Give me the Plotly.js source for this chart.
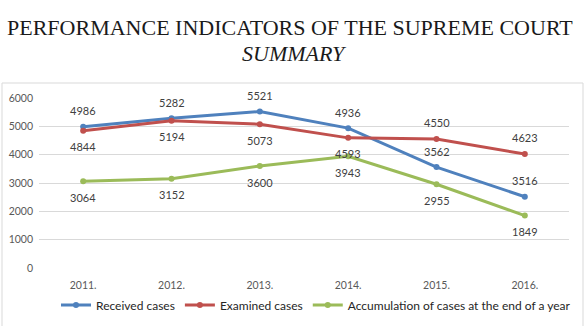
<!DOCTYPE html>
<html><head><meta charset="utf-8">
<script src="https://cdn.plot.ly/plotly-3.0.1.min.js"></script>
<style>body{margin:0;background:#fff}#c{width:588px;height:326px}</style>
</head><body><div id="c"></div>
<script>
const years = ["2011.", "2012.", "2013.", "2014.", "2015.", "2016."];
const received = [4986, 5282, 5521, 4936, 3562, 2516];
const examined = [4844, 5194, 5073, 4593, 4550, 4023];
const accumulated = [3064, 3152, 3600, 3943, 2955, 1849];
const receivedLabels = ["4986", "5282", "5521", "4936", "3562", "3516"];
const examinedLabels = ["4844", "5194", "5073", "4593", "4550", "4623"];
const accumulatedLabels = ["3064", "3152", "3600", "3943", "2955", "1849"];
const yTicks = [0, 1000, 2000, 3000, 4000, 5000, 6000];

const xIdx = years.map((_, i) => i);
const colors = {rec: "#4f81bd", exa: "#c0504d", acc: "#9bbb59"};
function tr(name, y, c) {
  return {type: "scatter", mode: "lines+markers", name: name, x: xIdx, y: y,
    line: {color: c, width: 3}, marker: {color: c, size: 6}};
}
const data = [
  tr("Received cases", received, colors.rec),
  tr("Examined cases", examined, colors.exa),
  tr("Accumulation of cases at the end of a year", accumulated, colors.acc)
];
const lblFont = {family: "Lato, 'Liberation Sans', sans-serif", size: 11, color: "#404040"};
const annotations = [];
function addLabels(vals, labels, shifts) {
  vals.forEach((v, i) => annotations.push({x: xIdx[i], y: v, xref: "x", yref: "y",
    xanchor: "center", yanchor: "middle",
    text: labels[i], showarrow: false, yshift: shifts[i], font: lblFont}));
}
addLabels(received, receivedLabels, [16, 16, 16, 16, 16, 16]);
addLabels(examined, examinedLabels, [-16, -16, -16, -16, 17, 17]);
addLabels(accumulated, accumulatedLabels, [-16, -16, -16, -16, -16, -16]);

const L = 39, R = 19, T = 98, B = 58, W = 530, H = 170;
const titleFont = {family: "'Liberation Serif', 'Times New Roman', serif", size: 22, color: "#1a1a1a"};
annotations.push({xref: "paper", yref: "paper", x: (290 - L) / W, y: (268 - 28) / H,
  xanchor: "center", yanchor: "middle",
  text: "PERFORMANCE INDICATORS OF THE SUPREME COURT", showarrow: false, font: titleFont});
annotations.push({xref: "paper", yref: "paper", x: (294 - L) / W, y: (268 - 53) / H,
  xanchor: "center", yanchor: "middle",
  text: "<i>SUMMARY</i>", showarrow: false, font: titleFont});

const layout = {
  width: 588, height: 326,
  margin: {l: L, r: R, t: T, b: B, pad: 0, autoexpand: false},
  paper_bgcolor: "#fff", plot_bgcolor: "#fff",
  showlegend: true,
  xaxis: {range: [-0.5, 5.5], tickvals: xIdx, ticktext: years, showgrid: false, zeroline: false, showline: false,
    automargin: false,
    ticks: "", tickfont: {family: "Lato, 'Liberation Sans', sans-serif", size: 10.5, color: "#595959"},
    ticklabelstandoff: 9},
  yaxis: {range: [0, 6000], tickvals: yTicks, ticktext: yTicks.map(String),
    automargin: false,
    showgrid: true, gridcolor: "#d9d9d9", gridwidth: 1, zeroline: false, showline: false,
    ticks: "", tickfont: {family: "Lato, 'Liberation Sans', sans-serif", size: 10.5, color: "#595959"},
    ticklabelstandoff: 5},
  legend: {orientation: "h", x: (56 - L) / W, xanchor: "left", y: (268 - 305) / H, yanchor: "middle",
    font: {family: "Lato, 'Liberation Sans', sans-serif", size: 12, color: "#262626"},
    itemwidth: 30, tracegroupgap: 0, bgcolor: "rgba(0,0,0,0)"},
  annotations: annotations,
  shapes: [
    {type: "rect", xref: "paper", yref: "paper", layer: "below",
      x0: (2 - L) / W, x1: (583 - L) / W, y0: (268 - 340) / H, y1: (268 - 83) / H,
      line: {color: "#d9d9d9", width: 1}}
  ]
};
Plotly.newPlot("c", data, layout, {displayModeBar: false, staticPlot: true});
</script></body></html>
